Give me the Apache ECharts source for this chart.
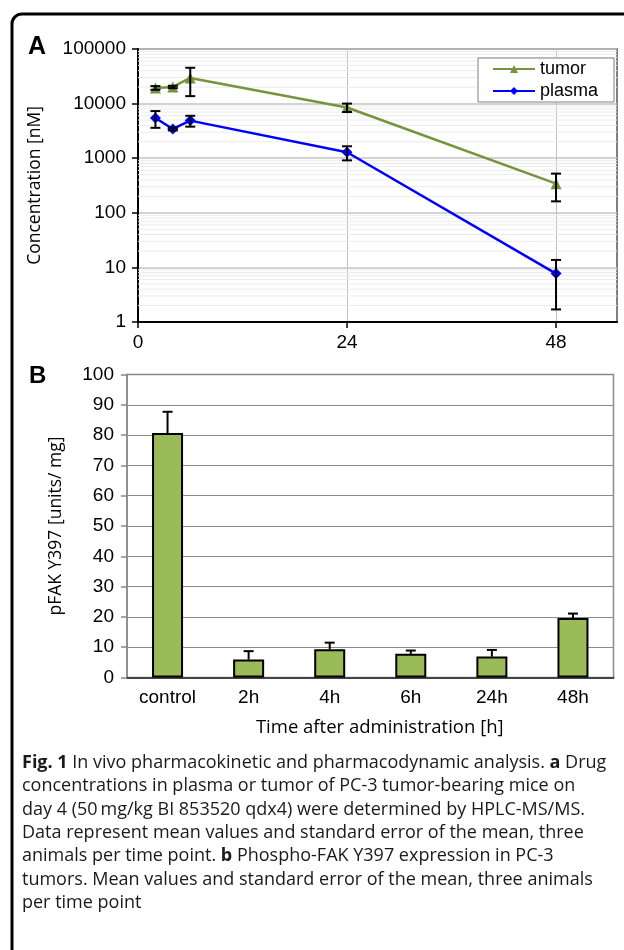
<!DOCTYPE html>
<html>
<head>
<meta charset="utf-8">
<script src="https://cdn.jsdelivr.net/npm/echarts@6/dist/echarts.min.js"></script>
<style>
  html, body { margin: 0; padding: 0; background: #fff; }
  #main { width: 624px; height: 950px; }
</style>
</head>
<body>
<div id="main"></div>
<script>
// panel A: pharmacokinetics (log scale)
const pkTimes = [2, 4, 6, 24, 48];
const tumorMean = [19400, 20200, 29500, 8500, 342];
const tumorSem = [1500, 1000, 15800, 1500, 180];
const plasmaMean = [5450, 3430, 4880, 1283, 7.7];
const plasmaSem = [1850, 200, 1100, 370, 6];
const pkTimeTicks = [0, 24, 48];

// panel B: pFAK bars
const pdCategories = ['control', '2h', '4h', '6h', '24h', '48h'];
const pdMean = [80.7, 5.9, 9.3, 7.8, 6.9, 19.6];
const pdSem = [7.0, 2.8, 2.2, 1.1, 2.2, 1.5];

const captionLines = [
  '{b|Fig. 1} In vivo pharmacokinetic and pharmacodynamic analysis. {b|a} Drug',
  'concentrations in plasma or tumor of PC-3 tumor-bearing mice on',
  'day 4 (50\u2009mg/kg BI 853520 qdx4) were determined by HPLC-MS/MS.',
  'Data represent mean values and standard error of the mean, three',
  'animals per time point. {b|b} Phospho-FAK Y397 expression in PC-3',
  'tumors. Mean values and standard error of the mean, three animals',
  'per time point'
];

const LAB = 'Liberation Sans, Arial, sans-serif';
const NAMEF = 'Open Sans, sans-serif';

// minor log gridlines (2..9 of each decade)
const minorVals = [];
for (let d = 1; d < 100000; d *= 10) {
  for (let k = 2; k <= 9; k++) minorVals.push([0, k * d]);
}

function pairs(xs, ys) {
  return xs.map(function (x, i) { return [x, ys[i]]; });
}
function errRange(xs, m, s) {
  return xs.map(function (x, i) { return [x, m[i] - s[i], m[i] + s[i]]; });
}

// error bar with caps at both ends
function errBoth(params, api) {
  const x = api.value(0);
  const a = api.coord([x, api.value(1)]);
  const b = api.coord([x, api.value(2)]);
  const w = 5;
  const st = { stroke: '#000', lineWidth: 2 };
  return {
    type: 'group', children: [
      { type: 'line', shape: { x1: a[0], y1: a[1], x2: b[0], y2: b[1] }, style: st },
      { type: 'line', shape: { x1: a[0] - w, y1: a[1], x2: a[0] + w, y2: a[1] }, style: st },
      { type: 'line', shape: { x1: b[0] - w, y1: b[1], x2: b[0] + w, y2: b[1] }, style: st }
    ]
  };
}

// upper error only (bar chart)
function errUp(params, api) {
  const x = api.value(0);
  const a = api.coord([x, api.value(1)]);
  const b = api.coord([x, api.value(1) + api.value(2)]);
  const w = 5;
  const st = { stroke: '#000', lineWidth: 2 };
  return {
    type: 'group', children: [
      { type: 'line', shape: { x1: a[0], y1: a[1], x2: b[0], y2: b[1] }, style: st },
      { type: 'line', shape: { x1: b[0] - w, y1: b[1], x2: b[0] + w, y2: b[1] }, style: st }
    ]
  };
}

function minorLine(params, api) {
  const y = api.coord([0, api.value(1)])[1];
  const cs = params.coordSys;
  return {
    type: 'line', silent: true,
    shape: { x1: cs.x, y1: y, x2: cs.x + cs.width, y2: y },
    style: { stroke: '#ebebeb', lineWidth: 1 }
  };
}

const caption = captionLines.map(function (t, i) {
  return {
    type: 'text', x: 22, y: 763 + i * 23.3, silent: true,
    style: {
      text: t, fill: '#1a1a1a', font: '18px ' + NAMEF, verticalAlign: 'middle',
      rich: { b: { fontWeight: 'bold', fontSize: 18, fontFamily: NAMEF, fill: '#1a1a1a' } }
    }
  };
});

const chart = echarts.init(document.getElementById('main'));
chart.setOption({
  animation: false,
  backgroundColor: '#fff',
  textStyle: { fontFamily: LAB },
  graphic: [
    { type: 'rect', shape: { x: 12, y: 14, width: 700, height: 1000, r: 10 }, style: { fill: 'none', stroke: '#000', lineWidth: 3 }, z: -1 },
    { type: 'text', x: 28, y: 47, style: { text: 'A', font: 'bold 25px ' + LAB, fill: '#000', verticalAlign: 'middle' } },
    { type: 'text', x: 29, y: 376, style: { text: 'B', font: 'bold 24px ' + LAB, fill: '#000', verticalAlign: 'middle' } }
  ].concat(caption),
  legend: {
    left: 478, top: 58, orient: 'vertical',
    data: ['tumor', 'plasma'],
    itemWidth: 42, itemHeight: 10, itemGap: 2,
    padding: [1, 16, 1, 14],
    backgroundColor: '#fff', borderColor: '#808080', borderWidth: 1, borderRadius: 0,
    textStyle: { fontSize: 18, fontFamily: LAB, color: '#000', lineHeight: 20 }
  },
  grid: [
    { left: 138, top: 49, width: 479, height: 273, show: true, borderColor: '#808080', borderWidth: 2, backgroundColor: '#fff' },
    { left: 127, top: 374.5, width: 486.5, height: 303, show: true, borderColor: '#8c8c8c', borderWidth: 1.5, backgroundColor: '#fff' }
  ],
  xAxis: [
    {
      gridIndex: 0, type: 'value', min: 0, max: 55, interval: 24,
      axisLine: { lineStyle: { color: '#000', width: 2 } },
      axisTick: { length: 6, customValues: pkTimeTicks, lineStyle: { color: '#000', width: 1.5 } },
      axisLabel: { customValues: pkTimeTicks, fontSize: 19, color: '#000', margin: 11 },
      splitLine: { show: true, lineStyle: { color: '#c0c0c0', width: 1 } }
    },
    {
      gridIndex: 1, type: 'category', data: pdCategories,
      axisLine: { lineStyle: { color: '#444', width: 2 } },
      axisTick: { length: 6, lineStyle: { color: '#666', width: 1.5 } },
      axisLabel: { fontSize: 19, color: '#000', margin: 11 },
      name: 'Time after administration [h]', nameLocation: 'middle', nameGap: 41,
      nameTextStyle: { fontSize: 18.5, fontFamily: NAMEF, color: '#000', padding: [0, 0, 0, 19] }
    }
  ],
  yAxis: [
    {
      gridIndex: 0, type: 'log', logBase: 10, min: 1, max: 100000, splitNumber: 5,
      axisLine: { show: true, lineStyle: { color: '#000', width: 2 } },
      axisTick: { show: true, length: 6, lineStyle: { color: '#000', width: 1.5 } },
      axisLabel: { fontSize: 19, color: '#000', margin: 12, formatter: function (v) { return String(Math.round(v)); } },
      splitLine: { show: true, lineStyle: { color: '#c4c4c4', width: 1.5 } },
      name: 'Concentration [nM]', nameLocation: 'middle', nameGap: 94,
      nameTextStyle: { fontSize: 17.5, fontFamily: NAMEF, color: '#000' }
    },
    {
      gridIndex: 1, type: 'value', min: 0, max: 100, interval: 10,
      axisLine: { show: true, lineStyle: { color: '#888', width: 1.5 } },
      axisTick: { show: true, length: 6, lineStyle: { color: '#888', width: 1.5 } },
      axisLabel: { fontSize: 19, color: '#000', margin: 13 },
      splitLine: { show: true, lineStyle: { color: '#8a8a8a', width: 1 } },
      name: 'pFAK Y397 [units/ mg]', nameLocation: 'middle', nameGap: 62,
      nameTextStyle: { fontSize: 17.5, fontFamily: NAMEF, color: '#000' }
    }
  ],
  series: [
    {
      type: 'custom', name: 'minor', xAxisIndex: 0, yAxisIndex: 0, z: 1,
      renderItem: minorLine, data: minorVals, silent: true
    },
    {
      type: 'line', name: 'tumor', xAxisIndex: 0, yAxisIndex: 0, z: 3,
      data: pairs(pkTimes, tumorMean),
      symbol: 'triangle', symbolSize: 11,
      lineStyle: { color: '#77933c', width: 2.5 },
      itemStyle: { color: '#77933c' }
    },
    {
      type: 'line', name: 'plasma', xAxisIndex: 0, yAxisIndex: 0, z: 3,
      data: pairs(pkTimes, plasmaMean),
      symbol: 'diamond', symbolSize: 11,
      lineStyle: { color: '#0000ff', width: 2.5 },
      itemStyle: { color: '#0000ff' }
    },
    {
      type: 'custom', name: 'tumorErr', xAxisIndex: 0, yAxisIndex: 0, z: 4,
      renderItem: errBoth, data: errRange(pkTimes, tumorMean, tumorSem), silent: true
    },
    {
      type: 'custom', name: 'plasmaErr', xAxisIndex: 0, yAxisIndex: 0, z: 4,
      renderItem: errBoth, data: errRange(pkTimes, plasmaMean, plasmaSem), silent: true
    },
    {
      type: 'bar', name: 'pFAK', xAxisIndex: 1, yAxisIndex: 1, z: 3,
      data: pdMean, barWidth: 31,
      itemStyle: { color: '#9bbb59', borderColor: '#000', borderWidth: 2 }
    },
    {
      type: 'custom', name: 'pFAKErr', xAxisIndex: 1, yAxisIndex: 1, z: 2,
      renderItem: errUp, silent: true,
      data: pdMean.map(function (m, i) { return [i, m, pdSem[i]]; })
    }
  ]
});
</script>
</body>
</html>
